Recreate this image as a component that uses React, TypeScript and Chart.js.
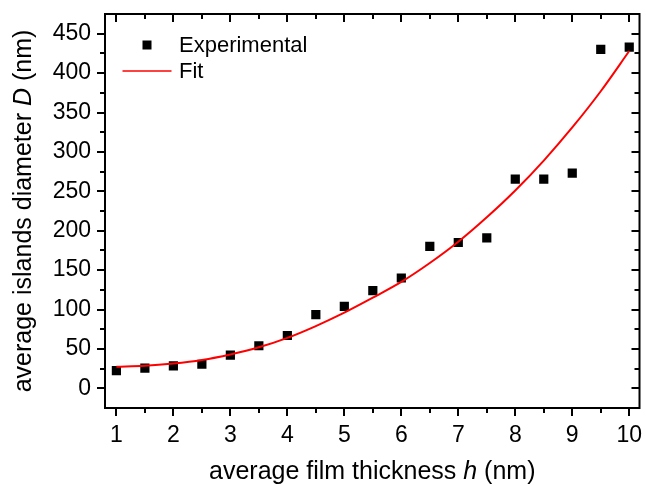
import React, { useEffect, useRef } from "react";
import { Chart, registerables } from "chart.js";

Chart.register(...registerables);

// ---- data ----
const THICKNESS = [1, 1.5, 2, 2.5, 3, 3.5, 4, 4.5, 5, 5.5, 6, 6.5, 7, 7.5, 8, 8.5, 9, 9.5, 10];
const DIAMETER_EXP = [22.5, 25.5, 28.5, 30.5, 42, 54, 67, 93.5, 104, 124, 140, 180, 185, 191, 265.5, 265.5, 273, 430, 433];
const DIAMETER_FIT = [27.5, 28.6, 31.5, 36, 43, 52, 64, 79, 96, 115, 135, 159, 186, 217, 251, 289, 331, 377, 428];
const X_TICKS = [1, 2, 3, 4, 5, 6, 7, 8, 9, 10];
const X_MINOR = [1.5, 2.5, 3.5, 4.5, 5.5, 6.5, 7.5, 8.5, 9.5];
const Y_TICKS = [0, 50, 100, 150, 200, 250, 300, 350, 400, 450];
const Y_MINOR = [25, 75, 125, 175, 225, 275, 325, 375, 425];
const SERIES_EXP = "Experimental";
const SERIES_FIT = "Fit";
const X_TITLE = [
  { t: "average film thickness ", i: false },
  { t: "h", i: true },
  { t: " (nm)", i: false },
];
const Y_TITLE = [
  { t: "average islands diameter ", i: false },
  { t: "D", i: true },
  { t: " (nm)", i: false },
];

const FONT = '"Liberation Sans", Arial, sans-serif';
const TICK_SIZE = 23;
const TITLE_SIZE = 25;
const LEGEND_SIZE = 22;

function drawRich(ctx: CanvasRenderingContext2D, parts: { t: string; i: boolean }[], size: number) {
  const fonts = parts.map((p) => `${p.i ? "italic " : ""}${size}px ${FONT}`);
  let total = 0;
  const widths = parts.map((p, k) => {
    ctx.font = fonts[k];
    const w = ctx.measureText(p.t).width;
    total += w;
    return w;
  });
  let x = -total / 2;
  parts.forEach((p, k) => {
    ctx.font = fonts[k];
    ctx.fillText(p.t, x, 0);
    x += widths[k];
  });
}

const decor = {
  id: "decor",
  afterDraw(chart: any) {
    const { ctx, chartArea: a, scales } = chart;
    const xs = scales.x;
    const ys = scales.y;
    ctx.save();
    ctx.strokeStyle = "#000";
    ctx.lineWidth = 2;
    ctx.strokeRect(a.left, a.top, a.right - a.left, a.bottom - a.top);
    ctx.beginPath();
    const MAJ = 8;
    const MIN = 5;
    const xt = (v: number, len: number) => {
      const p = Math.round(xs.getPixelForValue(v));
      ctx.moveTo(p, a.bottom);
      ctx.lineTo(p, a.bottom + len);
      ctx.moveTo(p, a.top);
      ctx.lineTo(p, a.top + len);
    };
    const yt = (v: number, len: number) => {
      const p = Math.round(ys.getPixelForValue(v));
      ctx.moveTo(a.left, p);
      ctx.lineTo(a.left - len, p);
      ctx.moveTo(a.right, p);
      ctx.lineTo(a.right - len, p);
    };
    X_TICKS.forEach((v) => xt(v, MAJ));
    X_MINOR.forEach((v) => xt(v, MIN));
    Y_TICKS.forEach((v) => yt(v, MAJ));
    Y_MINOR.forEach((v) => yt(v, MIN));
    ctx.stroke();

    // legend
    const ds = chart.data.datasets;
    ctx.fillStyle = "#000";
    ctx.fillRect(142.5, 40.5, 9, 9);
    ctx.strokeStyle = "#ff0000";
    ctx.lineWidth = 1.5;
    ctx.beginPath();
    ctx.moveTo(122.5, 71);
    ctx.lineTo(171.5, 71);
    ctx.stroke();
    ctx.font = `${LEGEND_SIZE}px ${FONT}`;
    ctx.textBaseline = "middle";
    ctx.textAlign = "left";
    ctx.fillText(ds[1].label, 179, 46);
    ctx.fillText(ds[0].label, 179, 72);

    // axis titles
    ctx.textAlign = "left";
    ctx.textBaseline = "alphabetic";
    ctx.save();
    ctx.translate((a.left + a.right) / 2, 479);
    drawRich(ctx, X_TITLE, TITLE_SIZE);
    ctx.restore();
    ctx.save();
    ctx.translate(31, (a.top + a.bottom) / 2);
    ctx.rotate(-Math.PI / 2);
    drawRich(ctx, Y_TITLE, TITLE_SIZE);
    ctx.restore();
    ctx.restore();
  },
};

export default function App() {
  const ref = useRef<HTMLCanvasElement | null>(null);
  useEffect(() => {
    if (!ref.current) return;
    const chart = new Chart(ref.current, {
      type: "scatter",
      data: {
        datasets: [
          {
            type: "line",
            label: SERIES_FIT,
            data: THICKNESS.map((h, i) => ({ x: h, y: DIAMETER_FIT[i] })),
            borderColor: "#ff0000",
            borderWidth: 2,
            pointRadius: 0,
            fill: false,
            cubicInterpolationMode: "monotone",
            order: 0,
          } as any,
          {
            type: "scatter",
            label: SERIES_EXP,
            data: THICKNESS.map((h, i) => ({ x: h, y: DIAMETER_EXP[i] })),
            pointStyle: "rect",
            pointRadius: 6.5,
            backgroundColor: "#000",
            borderWidth: 0,
            order: 1,
          } as any,
        ],
      },
      options: {
        responsive: false,
        animation: false,
        layout: { padding: { left: 0, right: 4, top: 14, bottom: 0 } },
        plugins: { legend: { display: false }, tooltip: { enabled: false } },
        scales: {
          x: {
            type: "linear",
            min: 0.8,
            max: 10.18,
            grid: { display: false, drawTicks: false, tickLength: 0 },
            border: { display: false },
            afterBuildTicks: (s: any) => {
              s.ticks = X_TICKS.map((v) => ({ value: v }));
            },
            afterFit: (s: any) => {
              s.height = 78;
              s.paddingLeft = 0;
              s.paddingRight = 0;
            },
            ticks: {
              color: "#000",
              font: { family: FONT, size: TICK_SIZE },
              padding: 14,
              maxRotation: 0,
              autoSkip: false,
              callback: (v: any) => String(v),
            },
          },
          y: {
            type: "linear",
            min: -25,
            max: 475,
            grid: { display: false, drawTicks: false, tickLength: 0 },
            border: { display: false },
            afterBuildTicks: (s: any) => {
              s.ticks = Y_TICKS.map((v) => ({ value: v }));
            },
            afterFit: (s: any) => {
              s.width = 105;
              s.paddingTop = 0;
              s.paddingBottom = 0;
            },
            ticks: {
              color: "#000",
              font: { family: FONT, size: TICK_SIZE },
              padding: 14,
              autoSkip: false,
              callback: (v: any) => String(v),
            },
          },
        },
      } as any,
      plugins: [decor],
    });
    return () => chart.destroy();
  }, []);
  return (
    <div style={{ position: "fixed", left: 0, top: 0, width: 646, height: 486, background: "#fff" }}>
      <canvas ref={ref} width={646} height={486} style={{ display: "block" }} />
    </div>
  );
}
